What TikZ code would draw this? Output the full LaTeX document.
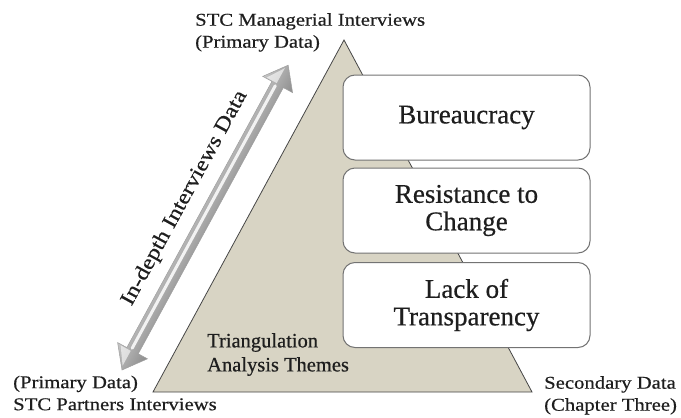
\documentclass[tikz,border=0pt]{standalone}
\usepackage{fontspec}
\setmainfont{Liberation Serif}[FakeBold=0.5]
\newfontfamily\widefont{Liberation Serif}[FakeStretch=1.15,FakeBold=0.5]
\definecolor{tanfill}{RGB}{216,212,196}
\definecolor{triedge}{RGB}{70,70,70}
\definecolor{boxedge}{RGB}{115,115,115}
\definecolor{textgray}{RGB}{30,30,30}
\begin{document}
\begin{tikzpicture}[x=1pt,y=-1pt,
  themebox/.style={draw=boxedge, line width=1pt, fill=white, rounded corners=12pt,
    minimum width=247pt, minimum height=85pt, inner sep=0pt, align=center,
    text=textgray, font=\fontsize{27}{27.5}\selectfont},
  cornerlabel/.style={inner sep=0pt, align=left, anchor=north west, text=textgray,
    font=\widefont\fontsize{18}{22}\selectfont}]
\useasboundingbox (0,0) rectangle (681,418);
% triangle
\coordinate (apex) at (344,40);
\coordinate (bl) at (153,392);
\coordinate (br) at (532,392);
\draw[fill=tanfill, draw=triedge, line width=0.8pt, line join=miter] (apex) -- (br) -- (bl) -- cycle;
% theme boxes
\node[themebox] (b1) at (466.5,117.5) {Bureaucracy};
\node[themebox] (b2) at (466.5,210.5) {Resistance to\\Change};
\node[themebox] (b3) at (466.5,305) {Lack of\\Transparency};
% triangle label
\node[inner sep=0pt, align=left, anchor=north west, text=textgray, font=\fontsize{20.5}{24}\selectfont] (tri) at (207,333) {Triangulation\\Analysis Themes};
% corner labels
\node[cornerlabel] (top) at (195,13) {STC Managerial Interviews\\(Primary Data)};
\node[cornerlabel] (left) at (13,375.5) {(Primary Data)\\STC Partners Interviews};
\node[cornerlabel] (right) at (544,376) {Secondary Data\\(Chapter Three)};
% double arrow
\coordinate (A) at (122,370);
\begin{scope}[transform canvas={shift={(122pt,-370pt)}, rotate=61.4}]
\shade[top color=gray!45, middle color=white, bottom color=gray!90, draw=gray!75, line width=0.5pt]
  (0,0) -- (22,-17) -- (22,-6.5) -- (325.2,-6.5) -- (325.2,-17) -- (347.2,0)
  -- (325.2,17) -- (325.2,6.5) -- (22,6.5) -- (22,17) -- cycle;
\draw[white, line width=3pt, opacity=0.85, line cap=round] (24,-1.5) -- (323,-1.5);
\fill[white, opacity=0.6] (4,-1.5) -- (21,-13) -- (21,-1.5) -- cycle;
\fill[white, opacity=0.6] (343,-1.5) -- (326,-13) -- (326,-1.5) -- cycle;
\end{scope}
\node[rotate=61.4, inner sep=0pt, text=textgray, font=\widefont\fontsize{21}{24}\selectfont] (arrowlabel) at (184.8,198.2) {In-depth Interviews Data};
\end{tikzpicture}
\end{document}
